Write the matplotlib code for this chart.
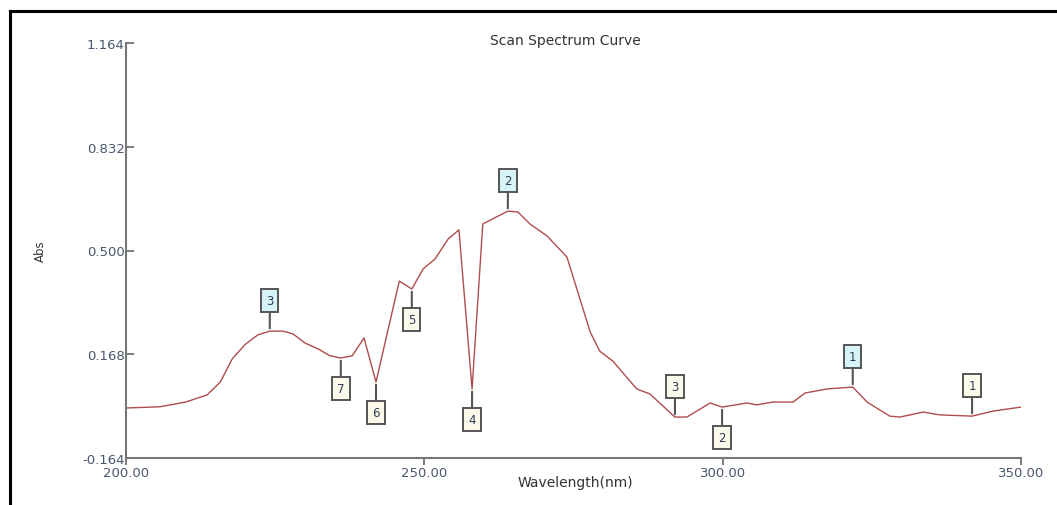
import numpy as np
import matplotlib
matplotlib.use("Agg")
import matplotlib.pyplot as plt
from matplotlib.lines import Line2D

# scan spectrum
wavelength = [200.0, 205.7, 210.0, 213.6, 215.8, 217.8, 220.0, 222.1, 224.1, 226.3,
              228.0, 230.0, 232.2, 234.2, 236.0, 237.9, 239.9, 241.9, 245.8, 247.9,
              249.8, 251.8, 254.0, 255.8, 258.0, 259.8, 264.0, 265.7, 267.7, 270.6,
              273.9, 277.8, 279.4, 281.6, 285.6, 287.8, 292.0, 294.0, 297.9, 299.9,
              304.1, 305.7, 308.4, 311.8, 313.8, 317.5, 321.8, 324.2, 328.0, 329.7,
              333.6, 336.4, 341.8, 345.3, 350.0]
absorb = [-0.004, 0.000, 0.015, 0.038, 0.079, 0.153, 0.200, 0.230, 0.242, 0.242,
          0.233, 0.204, 0.185, 0.163, 0.156, 0.163, 0.220, 0.079, 0.402, 0.377,
          0.441, 0.473, 0.537, 0.566, 0.057, 0.585, 0.626, 0.623, 0.585, 0.546,
          0.479, 0.239, 0.178, 0.146, 0.057, 0.041, -0.033, -0.033, 0.012, -0.001,
          0.012, 0.006, 0.015, 0.015, 0.044, 0.057, 0.063, 0.015, -0.030, -0.033,
          -0.017, -0.026, -0.030, -0.014, -0.001]

# peak markers (cyan boxes, drawn above the curve)
peak_wl = [321.8, 264.0, 224.1]
peak_txt = ["1", "2", "3"]
# valley markers: wavelength, label, drawn above?
valley_wl = [341.8, 299.9, 292.0, 258.0, 247.9, 241.9, 236.0]
valley_txt = ["1", "2", "3", "4", "5", "6", "7"]
valley_up = [True, False, True, False, False, False, False]

yticks = [-0.164, 0.168, 0.500, 0.832, 1.164]
xticks = [200, 250, 300, 350]

W, H = 1057, 506
fig = plt.figure(figsize=(W / 100, H / 100), dpi=100)
ax = fig.add_axes([126 / W, 1 - 459 / H, 895 / W, 415 / H])

ax.plot(wavelength, absorb, color="#b04c4c", lw=1.0)
ax.set_xlim(200, 350)
ax.set_ylim(-0.164, 1.164)

tick_col = "#4a5670"
ax.set_yticks(yticks)
ax.set_yticklabels([f"{v:.3f}" for v in yticks])
ax.set_xticks(xticks)
ax.set_xticklabels([f"{v:.2f}" for v in xticks])
ax.tick_params(axis="y", direction="in", length=6, width=1.2, color="#666666",
               labelsize=9.5, labelcolor=tick_col, pad=1)
ax.tick_params(axis="x", direction="out", length=5, width=1.2, color="#666666",
               labelsize=9.5, labelcolor=tick_col, pad=1)
for s in ["top", "right"]:
    ax.spines[s].set_visible(False)
for s in ["left", "bottom"]:
    ax.spines[s].set_color("#777777")
    ax.spines[s].set_linewidth(1.5)


def marker(x, txt, up, face):
    y = absorb[wavelength.index(x)]
    off = 22 if up else -22
    ax.annotate(txt, xy=(x, y), xytext=(0, off), textcoords="offset points",
                ha="center", va="center", fontsize=8.5, color="#2e3a55",
                bbox=dict(boxstyle="square,pad=0.42", fc=face, ec="#555555", lw=1.4),
                arrowprops=dict(arrowstyle="-", color="#555555", lw=1.5,
                                shrinkA=0, shrinkB=2))


for x, t in zip(peak_wl, peak_txt):
    marker(x, t, True, "#d6f3f7")
for x, t, u in zip(valley_wl, valley_txt, valley_up):
    marker(x, t, u, "#fbf9ea")

fig.text(565 / W, 1 - 41 / H, "Scan Spectrum Curve", ha="center", va="center",
         fontsize=10, color="#333333")
fig.text(575 / W, 1 - 483 / H, "Wavelength(nm)", ha="center", va="center",
         fontsize=10, color="#333333")
fig.text(40 / W, 1 - 251 / H, "Abs", ha="center", va="center", rotation=90,
         fontsize=8.5, color="#333333")

# outer frame (top and left only)
fig.add_artist(Line2D([10 / W, 10 / W], [0, 1 - 12 / H], color="black", lw=2.2))
fig.add_artist(Line2D([10 / W, 1], [1 - 12 / H, 1 - 12 / H], color="black", lw=2.2))

fig.savefig("out.png", dpi=100)
